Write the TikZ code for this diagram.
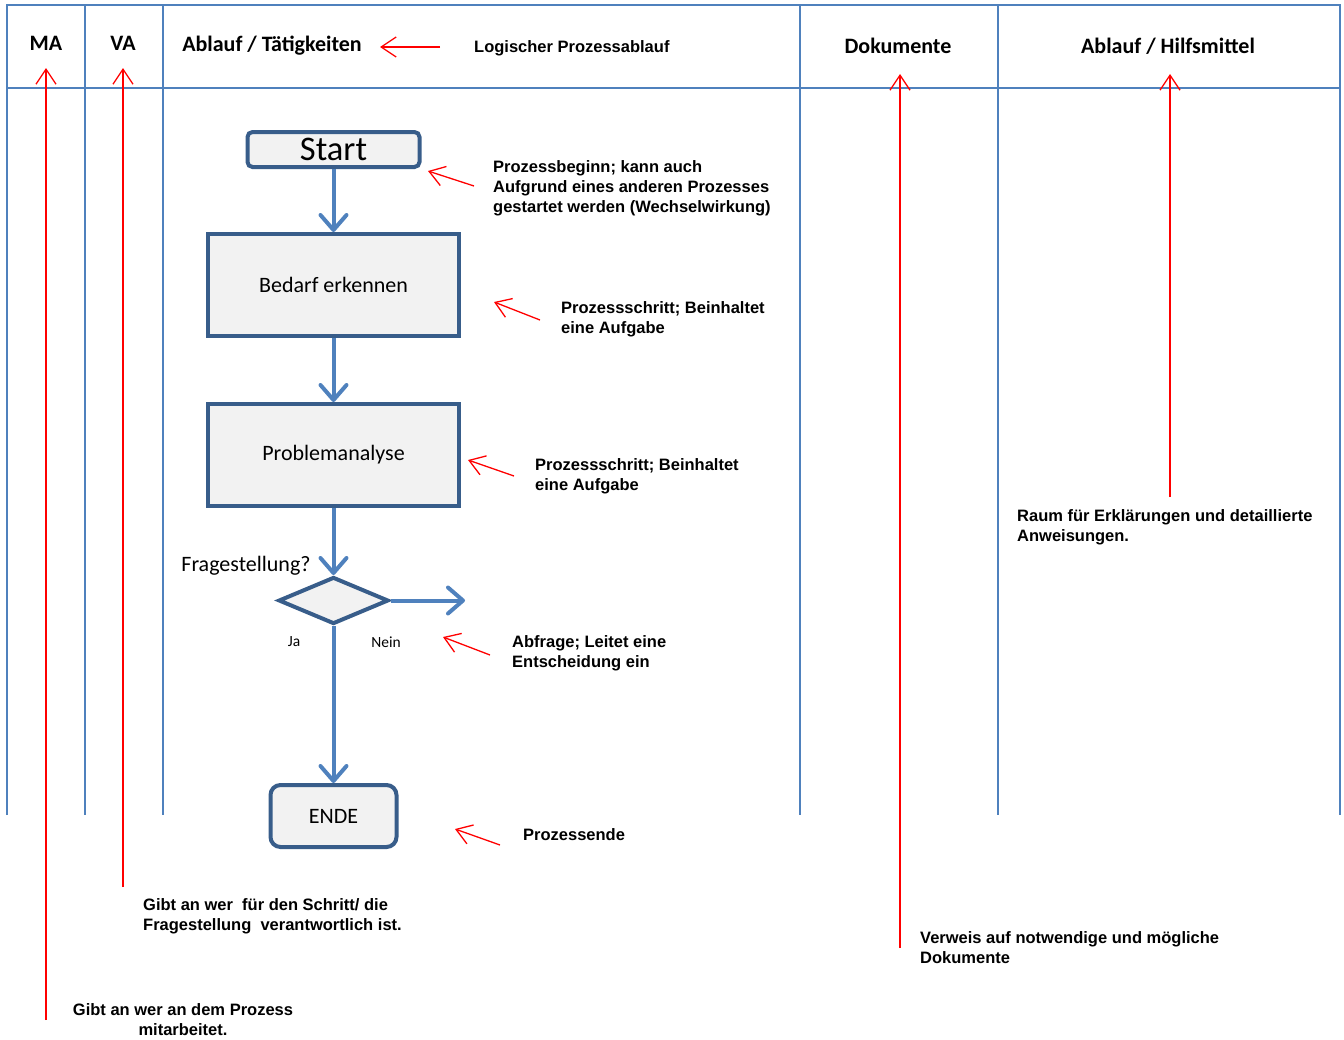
\documentclass[tikz,border=0pt]{standalone}
\usepackage{fontspec}
\setmainfont{Carlito}
\newfontfamily\notefont{Liberation Sans}
\usetikzlibrary{arrows.meta,shapes.geometric}

\definecolor{tabelle}{RGB}{79,129,189}
\definecolor{rahmen}{RGB}{56,93,138}
\definecolor{fuellung}{RGB}{242,242,242}
\definecolor{pfeil}{RGB}{79,129,189}

\begin{document}
\begin{tikzpicture}[x=1pt,y=-1pt]

        % Stile fuer Tabelle, Kaesten und Hinweise
        \tikzset{
            linie/.style={tabelle, line width=1.3pt},
            kasten/.style={draw=rahmen, fill=fuellung, line width=4pt, inner sep=0pt, font=\fontsize{22}{26}\selectfont},
            fluss/.style={pfeil, line width=4pt, -{Straight Barb[length=15pt,width=26pt,round]}},
            hinweis/.style={red, line width=1.3pt, -{Straight Barb[length=15pt,width=20pt]}},
            notiz/.style={font=\notefont\bfseries\fontsize{16.5}{20}\selectfont, align=left, inner sep=0pt, anchor=west},
            kopf/.style={font=\bfseries\fontsize{22}{26}\selectfont, inner sep=0pt}
        }

        \useasboundingbox (0,0) rectangle (1344,1039);

        % Tabellenrahmen und Spalten
        \draw[linie] (7,815) -- (7,5) -- (1340,5) -- (1340,815);
        \draw[linie, line width=2pt] (7,88) -- (1340,88);
        \foreach \x in {85,163,800,998}
            \draw[linie] (\x,5) -- (\x,815);

        % Spaltenkoepfe
        \node[kopf] (ma) at (46,43) {MA};
        \node[kopf] (va) at (123,43) {VA};
        \node[kopf] (ablauf) at (272,46) {Ablauf / Tätigkeiten};
        \node[kopf] (dok) at (898,46) {Dokumente};
        \node[kopf] (hilf) at (1168,46) {Ablauf / Hilfsmittel};
        \node[notiz] (logik) at (474,48) {Logischer Prozessablauf};

        % Ablauf
        \node[kasten, rounded corners=5pt, minimum width=172pt, minimum height=35pt, font=\fontsize{34.5}{38}\selectfont] (start) at (333.5,149.5) {Start};
        \node[kasten, minimum width=251pt, minimum height=102pt] (bedarf) at (333.5,285) {Bedarf erkennen};
        \node[kasten, minimum width=251pt, minimum height=102pt] (problem) at (333.5,455) {Problemanalyse};
        \node[kasten, diamond, aspect=2.34, minimum width=110pt, minimum height=47pt] (frage) at (333.5,600.5) {};
        \node[kasten, rounded corners=10pt, minimum width=126pt, minimum height=62pt] (ende) at (333.5,816) {ENDE};
        \coordinate (nein) at (465,600.5);

        \draw[fluss] (start.south) -- (bedarf.north);
        \draw[fluss] (bedarf.south) -- (problem.north);
        \draw[fluss] (problem.south) -- (frage.north);
        \draw[fluss] (frage.east) -- (nein);
        \draw[fluss] (frage.south) -- (ende.north);

        % Beschriftung der Abfrage
        \node[font=\fontsize{22}{26}\selectfont, inner sep=0pt] (fragetext) at (246,566) {Fragestellung?};
        \node[font=\fontsize{15.5}{18}\selectfont, inner sep=0pt] (ja) at (294,642) {Ja};
        \node[font=\fontsize{15.5}{18}\selectfont, inner sep=0pt] (neintext) at (386,642) {Nein};

        % Erlaeuterungen
        \node[notiz] (nstart) at (493,188) {Prozessbeginn; kann auch\\Aufgrund eines anderen Prozesses\\gestartet werden (Wechselwirkung)};
        \node[notiz] (nbedarf) at (561,319) {Prozessschritt; Beinhaltet\\eine Aufgabe};
        \node[notiz] (nproblem) at (535,476) {Prozessschritt; Beinhaltet\\eine Aufgabe};
        \node[notiz] (nfrage) at (512,653) {Abfrage; Leitet eine\\Entscheidung ein};
        \node[notiz] (nende) at (523,835) {Prozessende};
        \node[notiz] (nhilf) at (1017,527) {Raum für Erklärungen und detaillierte\\Anweisungen.};
        \node[notiz] (ndok) at (920,948) {Verweis auf notwendige und mögliche\\Dokumente};
        \node[notiz] (nva) at (143,916) {Gibt an wer~ für den Schritt/ die\\Fragestellung~ verantwortlich ist.};
        \node[notiz, align=center, anchor=center] (nma) at (183,1020) {Gibt an wer an dem Prozess\\mitarbeitet.};

        % Rote Hinweispfeile
        \coordinate (h1) at (440,47);   \coordinate (z1) at (380,47);
        \coordinate (h2) at (474,186);  \coordinate (z2) at (428,171);
        \coordinate (h3) at (540,320);  \coordinate (z3) at (494,302);
        \coordinate (h4) at (514,476);  \coordinate (z4) at (468,460);
        \coordinate (h5) at (490,655);  \coordinate (z5) at (443,637);
        \coordinate (h6) at (500,845);  \coordinate (z6) at (455,829);
        \coordinate (h7) at (46,1020);  \coordinate (z7) at (46,68);
        \coordinate (h8) at (123,887);  \coordinate (z8) at (123,68);
        \coordinate (h9) at (900,948);  \coordinate (z9) at (900,74);
        \coordinate (h10) at (1170,497); \coordinate (z10) at (1170,74);
        \foreach \i in {1,...,10}
            \draw[hinweis] (h\i) -- (z\i);

    \end{tikzpicture}
\end{document}
